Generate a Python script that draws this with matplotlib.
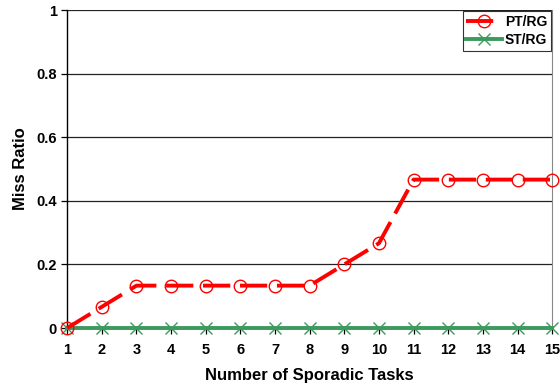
import numpy as np
import matplotlib.pyplot as plt

plt.rcParams['font.family'] = ['Liberation Sans', 'DejaVu Sans']
plt.rcParams['font.weight'] = 'bold'

tasks = list(range(1, 16))
pt_rg = [0, 0.0667, 0.1333, 0.1333, 0.1333, 0.1333, 0.1333, 0.1333,
         0.2, 0.2667, 0.4667, 0.4667, 0.4667, 0.4667, 0.4667]
st_rg = [0] * 15

fig = plt.figure(figsize=(5.6, 3.85), dpi=100)
ax = fig.add_axes([0.12, 0.148, 0.866, 0.826])

ax.plot(tasks, st_rg, color='#3c9a5f', lw=2.8, marker='x', ms=9,
        mew=1.0, label='ST/RG', zorder=5, clip_on=False)
ax.plot(tasks, pt_rg, color='#ff0000', lw=2.8, ls=(0, (7, 2.5)), marker='o',
        ms=9, mfc='none', mec='#ff0000', mew=1.0, label='PT/RG', zorder=6,
        clip_on=False)

ax.set_xlim(1, 15)
ax.set_ylim(0, 1)
ax.set_xticks(tasks)
ax.set_yticks([0, 0.2, 0.4, 0.6, 0.8, 1])
ax.set_yticklabels(['0', '0.2', '0.4', '0.6', '0.8', '1'])
ax.yaxis.grid(True, color='#222222', lw=0.9)
ax.set_axisbelow(True)
ax.tick_params(labelsize=10.5, length=4, width=0.9)
ax.tick_params(axis='x', pad=7)
for lbl in ax.get_xticklabels() + ax.get_yticklabels():
    lbl.set_fontweight('bold')

ax.spines['top'].set_visible(False)
ax.spines['right'].set_color('#888888')
ax.spines['left'].set_linewidth(1.0)
ax.spines['bottom'].set_linewidth(1.0)

ax.set_xlabel('Number of Sporadic Tasks', fontsize=12, fontweight='bold', labelpad=8)
ax.set_ylabel('Miss Ratio', fontsize=12, fontweight='bold', labelpad=6)

handles, labels = ax.get_legend_handles_labels()
leg = ax.legend(handles[::-1], labels[::-1], loc='upper right', fontsize=10,
                frameon=True, fancybox=False, edgecolor='black',
                borderaxespad=0.1, handlelength=2.6, handletextpad=0.2,
                borderpad=0.25, labelspacing=0.3)
leg.get_frame().set_linewidth(0.8)

fig.savefig('out.png', dpi=100)
